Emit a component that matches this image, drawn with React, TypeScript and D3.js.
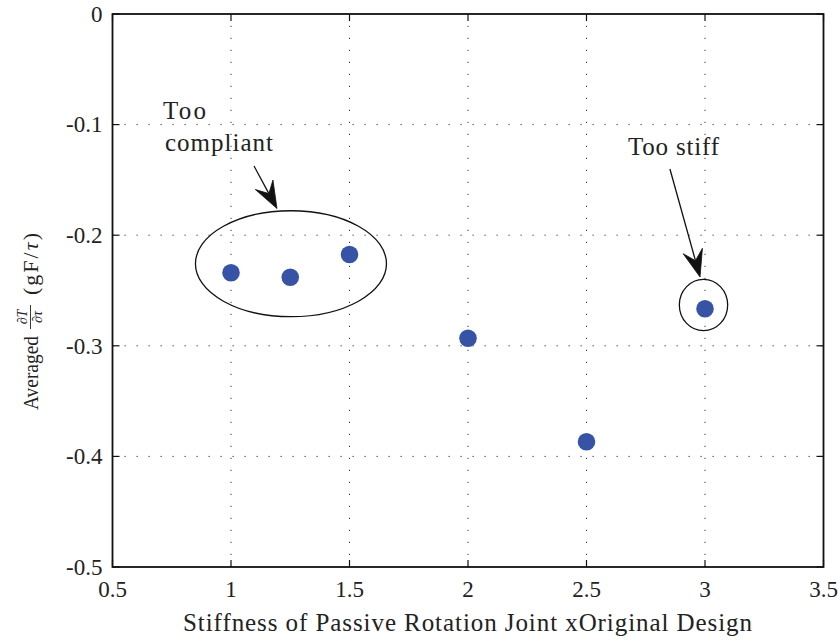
import React from "react";
import * as d3 from "d3";

const stiffness = [1, 1.25, 1.5, 2, 2.5, 3];
const avgDTdTau = [-0.234, -0.238, -0.2175, -0.2932, -0.3867, -0.2665];
const xTicks = [0.5, 1, 1.5, 2, 2.5, 3, 3.5];
const yTicks = [0, -0.1, -0.2, -0.3, -0.4, -0.5];
const xTickLabels = ["0.5", "1", "1.5", "2", "2.5", "3", "3.5"];
const yTickLabels = ["0", "-0.1", "-0.2", "-0.3", "-0.4", "-0.5"];

// annotations in data coordinates
const ellipses = [
  { cx: 1.253, cy: -0.2258, rx: 0.403, ry: 0.0479 },
  { cx: 2.9937, cy: -0.2631, rx: 0.102, ry: 0.0232 },
];
const arrows = [
  { x1: 1.097, y1: -0.1374, x2: 1.194, y2: -0.1759 },
  { x1: 2.852, y1: -0.1401, x2: 2.979, y2: -0.2378 },
];
const labels = [
  { text: "Too", x: 0.713, y: -0.0949, len: 43 },
  { text: "compliant", x: 0.7215, y: -0.1239, len: 108 },
  { text: "Too stiff", x: 2.675, y: -0.1275, len: 91 },
];

const W = 840, H = 641;
const L = 112.5, R = 823.5, T = 14, B = 567;
const serif = "'Liberation Serif', serif";

export default function App() {
  const x = d3.scaleLinear().domain([0.5, 3.5]).range([L, R]);
  const y = d3.scaleLinear().domain([-0.5, 0]).range([B, T]);
  const tickLen = 7;

  const arrowHead = (a: any) => {
    const X1 = x(a.x1), Y1 = y(a.y1), X2 = x(a.x2), Y2 = y(a.y2);
    const dx = X2 - X1, dy = Y2 - Y1;
    const len = Math.hypot(dx, dy);
    const ux = dx / len, uy = dy / len;
    const px = -uy, py = ux;
    const hl = 27, hw = 10, notch = 17;
    const bx = X2 - ux * hl, by = Y2 - uy * hl;
    const nx = X2 - ux * notch, ny = Y2 - uy * notch;
    const pts = [
      [X2, Y2],
      [bx + px * hw, by + py * hw],
      [nx, ny],
      [bx - px * hw, by - py * hw],
    ];
    return {
      line: { x1: X1, y1: Y1, x2: nx, y2: ny },
      poly: pts.map((p) => p.join(",")).join(" "),
    };
  };

  return (
    <svg
      width={W}
      height={H}
      style={{ position: "absolute", left: 0, top: 0, background: "#fff", fontFamily: serif }}
    >
      <rect x={0} y={0} width={W} height={H} fill="#fff" />
      {/* grid */}
      <g stroke="#333" strokeWidth={1} strokeDasharray="1.2 10.8">
        {xTicks.slice(1, -1).map((t) => (
          <line key={"gx" + t} x1={x(t)} x2={x(t)} y1={B} y2={T} />
        ))}
        {yTicks.slice(1, -1).map((t) => (
          <line key={"gy" + t} x1={L} x2={R} y1={y(t)} y2={y(t)} />
        ))}
      </g>
      {/* ticks */}
      <g stroke="#111" strokeWidth={1.2}>
        {xTicks.map((t) => (
          <g key={"tx" + t}>
            <line x1={x(t)} x2={x(t)} y1={B} y2={B - tickLen} />
            <line x1={x(t)} x2={x(t)} y1={T} y2={T + tickLen} />
          </g>
        ))}
        {yTicks.map((t) => (
          <g key={"ty" + t}>
            <line x1={L} x2={L + tickLen} y1={y(t)} y2={y(t)} />
            <line x1={R} x2={R - tickLen} y1={y(t)} y2={y(t)} />
          </g>
        ))}
      </g>
      {/* box */}
      <rect x={L} y={T} width={R - L} height={B - T} fill="none" stroke="#111" strokeWidth={1.8} />
      {/* tick labels */}
      <g style={{ fontFamily: serif }} fontSize={23} fill="#222">
        {xTicks.map((t, i) => (
          <text key={"lx" + t} x={x(t)} y={B + 30} textAnchor="middle">
            {xTickLabels[i]}
          </text>
        ))}
        {yTicks.map((t, i) => (
          <text key={"ly" + t} x={L - 10} y={y(t)} dy="0.34em" textAnchor="end">
            {yTickLabels[i]}
          </text>
        ))}
      </g>
      {/* x label */}
      <text
        x={(L + R) / 2 - 0.5}
        y={631}
        textAnchor="middle"
        style={{ fontFamily: serif }}
        fontSize={25}
        fill="#222"
        textLength={569}
        lengthAdjust="spacing"
      >
        Stiffness of Passive Rotation Joint xOriginal Design
      </text>
      {/* y label */}
      <g transform="translate(38,410) rotate(-90)" style={{ fontFamily: serif }} fill="#222">
        <text x={0} y={0} fontSize={21} textLength={74} lengthAdjust="spacingAndGlyphs">
          Averaged
        </text>
        <text x={93} y={-11} fontSize={14} fontStyle="italic" textAnchor="middle">
          ∂T
        </text>
        <line x1={81} x2={105} y1={-7.5} y2={-7.5} stroke="#222" strokeWidth={0.9} />
        <text x={93} y={4} fontSize={14} fontStyle="italic" textAnchor="middle">
          ∂τ
        </text>
        <text x={115} y={0} fontSize={22} textLength={62} lengthAdjust="spacing">
          (gF/<tspan fontStyle="italic">τ</tspan>)
        </text>
      </g>
      {/* annotations */}
      <g fill="none" stroke="#111" strokeWidth={1.3}>
        {ellipses.map((e, i) => (
          <ellipse
            key={"e" + i}
            cx={x(e.cx)}
            cy={y(e.cy)}
            rx={x(e.cx + e.rx) - x(e.cx)}
            ry={y(e.cy) - y(e.cy + e.ry)}
          />
        ))}
      </g>
      {arrows.map((a, i) => {
        const h = arrowHead(a);
        return (
          <g key={"a" + i}>
            <line {...h.line} stroke="#111" strokeWidth={1.3} />
            <polygon points={h.poly} fill="#111" stroke="#111" strokeWidth={0.8} strokeLinejoin="miter" />
          </g>
        );
      })}
      <g style={{ fontFamily: serif }} fontSize={25} fill="#222">
        {labels.map((l, i) => (
          <text key={"t" + i} x={x(l.x)} y={y(l.y)} textLength={l.len} lengthAdjust="spacing">
            {l.text}
          </text>
        ))}
      </g>
      {/* points */}
      <g fill="#3753a5">
        {stiffness.map((s, i) => (
          <circle key={"p" + i} cx={x(s)} cy={y(avgDTdTau[i])} r={8.8} />
        ))}
      </g>
    </svg>
  );
}
